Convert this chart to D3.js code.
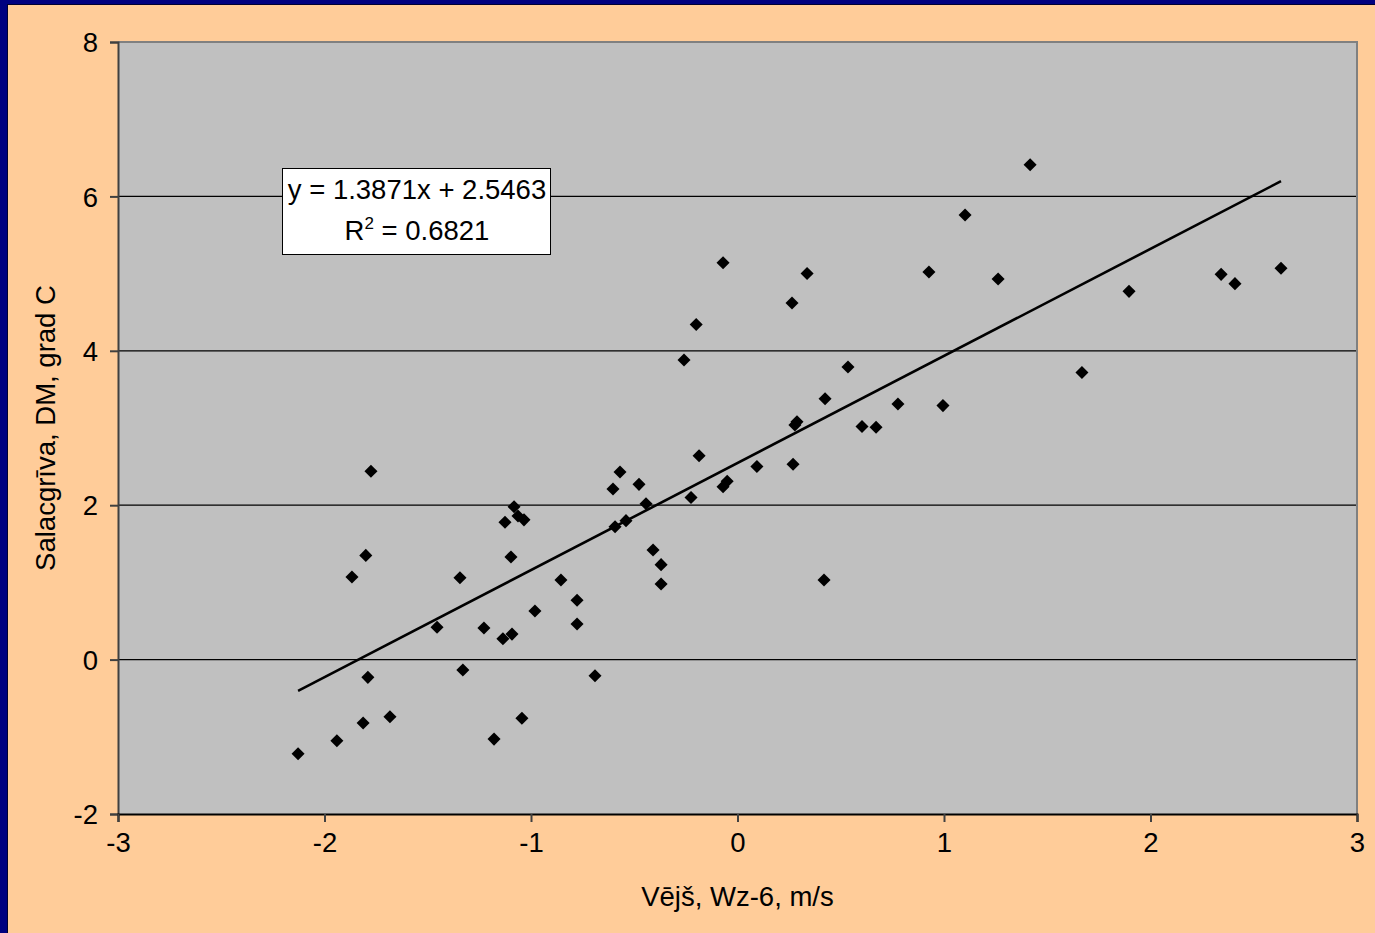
<!DOCTYPE html>
<html>
<head>
<meta charset="utf-8">
<script src="https://cdn.jsdelivr.net/npm/d3@7"></script>
<style>
  body { margin: 0; background: #000080; }
  svg { display: block; }
  text { font-family: "Liberation Sans", Arial, sans-serif; fill: #000; }
</style>
</head>
<body>
<script>
// wind (x) vs water temperature (y)
const wind = [-2.128, -1.94, -1.867, -1.813, -1.80, -1.79, -1.775, -1.683, -1.455, -1.344,
  -1.33, -1.228, -1.179, -1.136, -1.126, -1.097, -1.092, -1.082, -1.063, -1.044,
  -1.034, -0.981, -0.855, -0.777, -0.777, -0.69, -0.603, -0.593, -0.569, -0.540,
  -0.477, -0.443, -0.409, -0.37, -0.37, -0.259, -0.225, -0.20, -0.186, -0.07,
  -0.07, -0.05, 0.094, 0.264, 0.269, 0.278, 0.288, 0.337, 0.419, 0.424,
  0.535, 0.603, 0.671, 0.777, 0.927, 0.995, 1.102, 1.262, 1.417, 1.668,
  1.896, 2.342, 2.409, 2.632];
const temp = [-1.22, -1.05, 1.07, -0.82, 1.35, -0.23, 2.44, -0.74, 0.42, 1.06,
  -0.135, 0.41, -1.03, 0.27, 1.78, 1.33, 0.33, 1.98, 1.86, -0.76,
  1.81, 0.63, 1.03, 0.77, 0.46, -0.21, 2.21, 1.72, 2.43, 1.80,
  2.27, 2.02, 1.42, 1.23, 0.98, 3.88, 2.10, 4.34, 2.64, 5.14,
  2.24, 2.31, 2.50, 4.62, 2.53, 3.04, 3.08, 5.00, 1.03, 3.38,
  3.79, 3.02, 3.01, 3.31, 5.02, 3.29, 5.76, 4.93, 6.41, 3.72,
  4.77, 4.99, 4.87, 5.07];
const xTicks = [-3, -2, -1, 0, 1, 2, 3];
const yTicks = [-2, 0, 2, 4, 6, 8];
const slope = 1.3871, intercept = 2.5463, r2 = "0.6821";

const W = 1375, H = 933;
const plot = {left: 118, right: 1357, top: 42, bottom: 814};
const fs = 27.5;

const svg = d3.select("body").append("svg")
  .attr("width", W)
  .attr("height", H);

// navy frame + peach background
svg.append("rect").attr("width", W).attr("height", H).attr("fill", "#000080");
svg.append("rect").attr("x", 7).attr("y", 4).attr("width", W - 7).attr("height", H - 4)
  .attr("fill", "#000").attr("opacity", 0.6);
svg.append("rect").attr("x", 8).attr("y", 5).attr("width", W - 8).attr("height", H - 5)
  .attr("fill", "#FFCC99");

const x = d3.scaleLinear().domain([-3, 3]).range([plot.left, plot.right]);
const y = d3.scaleLinear().domain([-2, 8]).range([plot.bottom, plot.top]);

svg.append("rect")
  .attr("x", plot.left).attr("y", plot.top)
  .attr("width", plot.right - plot.left).attr("height", plot.bottom - plot.top)
  .attr("fill", "#C0C0C0");

// gridlines
svg.append("g").selectAll("line")
  .data(yTicks.filter(d => d > -2 && d < 8))
  .enter().append("line")
  .attr("x1", plot.left).attr("x2", plot.right)
  .attr("y1", d => y(d)).attr("y2", d => y(d))
  .attr("stroke", "#000").attr("stroke-width", 1.2);

// plot border top/right
svg.append("path")
  .attr("d", `M${plot.left},${plot.top}H${plot.right}V${plot.bottom}`)
  .attr("fill", "none").attr("stroke", "#808080").attr("stroke-width", 2);

const fmt = d => String(d);
const yAxis = svg.append("g")
  .attr("transform", `translate(${plot.left},0)`)
  .call(d3.axisLeft(y).tickValues(yTicks).tickSize(8).tickPadding(12).tickFormat(fmt));
const xAxis = svg.append("g")
  .attr("transform", `translate(0,${plot.bottom})`)
  .call(d3.axisBottom(x).tickValues(xTicks).tickSize(8).tickPadding(10).tickFormat(fmt));

[yAxis, xAxis].forEach(g => {
  g.select(".domain").attr("stroke", "#404040").attr("stroke-width", 2);
  g.selectAll(".tick line").attr("stroke", "#404040").attr("stroke-width", 2);
  g.selectAll(".tick text").attr("font-size", fs).attr("font-family", "Liberation Sans, Arial, sans-serif").attr("fill", "#000");
});
xAxis.select(".domain").attr("stroke", "#000");
xAxis.selectAll(".tick text").attr("dy", "0.72em");
yAxis.selectAll(".tick text").attr("dy", "0.35em");

// trend line
const x0 = d3.min(wind), x1 = d3.max(wind);
svg.append("line")
  .attr("x1", x(x0)).attr("y1", y(slope * x0 + intercept))
  .attr("x2", x(x1)).attr("y2", y(slope * x1 + intercept))
  .attr("stroke", "#000").attr("stroke-width", 2.6);

// points
const diamond = d3.symbol().type(d3.symbolSquare).size(85);
svg.append("g").selectAll("path")
  .data(wind.map((w, i) => [w, temp[i]]))
  .enter().append("path")
  .attr("d", diamond)
  .attr("transform", d => `translate(${x(d[0])},${y(d[1])}) rotate(45)`)
  .attr("fill", "#000");

// equation box
const box = svg.append("g");
box.append("rect")
  .attr("x", 282.5).attr("y", 168.5).attr("width", 268).attr("height", 86)
  .attr("fill", "#fff").attr("stroke", "#000").attr("stroke-width", 1);
box.append("text")
  .attr("x", 417).attr("y", 199).attr("text-anchor", "middle").attr("font-size", fs)
  .text(`y = ${slope}x + ${intercept}`);
const t2 = box.append("text")
  .attr("x", 417).attr("y", 240).attr("text-anchor", "middle").attr("font-size", fs);
t2.append("tspan").text("R");
t2.append("tspan").attr("font-size", 17).attr("dy", -11).text("2");
t2.append("tspan").attr("dy", 11).text(` = ${r2}`);

// axis titles
svg.append("text")
  .attr("x", (plot.left + plot.right) / 2).attr("y", 906)
  .attr("text-anchor", "middle").attr("font-size", fs)
  .text("Vējš, Wz-6, m/s");
svg.append("text")
  .attr("transform", `translate(55,${(plot.top + plot.bottom) / 2}) rotate(-90)`)
  .attr("text-anchor", "middle").attr("font-size", fs)
  .text("Salacgrīva, DM, grad C");
</script>
</body>
</html>
